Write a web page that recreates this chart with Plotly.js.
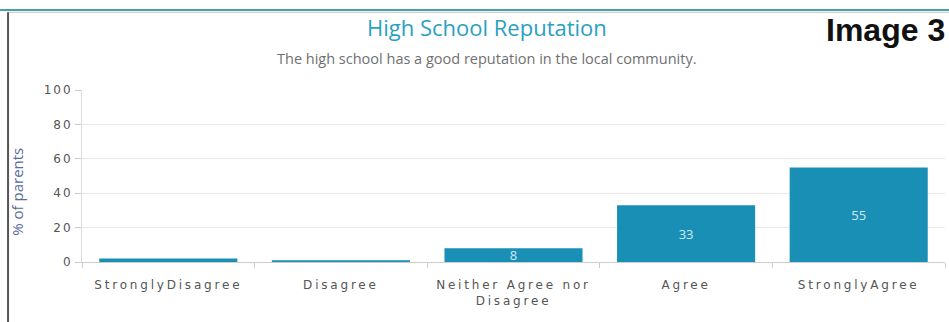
<!DOCTYPE html>
<html>
<head>
<meta charset="utf-8">
<script src="https://cdn.plot.ly/plotly-3.0.1.min.js"></script>
<style>
html,body{margin:0;padding:0;background:#fff;}
#chart{width:949px;height:322px;}
#chart .xtick text{letter-spacing:2.8px;}
#chart .ytick text{letter-spacing:2px;}
</style>
</head>
<body>
<div id="chart"></div>
<script>
const categories = ["Strongly Disagree", "Disagree", "Neither Agree nor Disagree", "Agree", "Strongly Agree"];
const tickLabels = ["StronglyDisagree", "Disagree", "Neither Agree nor<br>Disagree", "Agree", "StronglyAgree"];
const values = [2, 1, 8, 33, 55];
const yTicks = [0, 20, 40, 60, 80, 100];

const barText = values.map(v => v >= 5 ? String(v) : "");

const trace = {
  type: "bar",
  x: categories,
  y: values,
  text: barText,
  textposition: "inside",
  insidetextanchor: "middle",
  textangle: 0,
  constraintext: "none",
  textfont: {family: "Open Sans, sans-serif", size: 13, color: "#cfe8f2"},
  marker: {color: "#1a8fb6"},
  hoverinfo: "none"
};

const layout = {
  width: 949, height: 322,
  margin: {l: 82, r: 4, t: 90, b: 60},
  paper_bgcolor: "#ffffff",
  plot_bgcolor: "#ffffff",
  showlegend: false,
  bargap: 0.2,
  xaxis: {
    tickmode: "array",
    tickvals: categories,
    ticktext: tickLabels,
    tickson: "boundaries",
    ticks: "outside", ticklen: 5, tickcolor: "#cccccc",
    ticklabelstandoff: 12,
    showline: true, linecolor: "#cccccc", linewidth: 1,
    tickfont: {family: "DejaVu Sans, sans-serif", size: 12, color: "#555555"},
    showgrid: false
  },
  yaxis: {
    range: [0, 100],
    tickmode: "array",
    tickvals: yTicks,
    ticks: "outside", ticklen: 6, tickcolor: "#cccccc",
    showline: true, linecolor: "#dddddd", linewidth: 1,
    gridcolor: "#e8e8e8",
    zeroline: false,
    tickfont: {family: "DejaVu Sans, sans-serif", size: 12, color: "#555555"}
  },
  annotations: [
    {text: "High School Reputation",
     xref: "paper", yref: "paper", x: 0.469, y: 1.366, xanchor: "center", yanchor: "middle",
     showarrow: false, font: {family: "Open Sans, sans-serif", size: 22, color: "#2aa0c2"}},
    {text: "The high school has a good reputation in the local community.",
     xref: "paper", yref: "paper", x: 0.469, y: 1.186, xanchor: "center", yanchor: "middle",
     showarrow: false, font: {family: "Open Sans, sans-serif", size: 14.5, color: "#707070"}},
    {text: "<b>Image 3</b>",
     xref: "paper", yref: "paper", x: 1.002, y: 1.35, xanchor: "right", yanchor: "middle",
     showarrow: false, font: {family: "Liberation Sans, Arial, sans-serif", size: 32, color: "#111111"}},
    {text: "% of parents",
     xref: "paper", yref: "paper", x: -0.075, y: 0.41, xanchor: "center", yanchor: "middle",
     textangle: -90,
     showarrow: false, font: {family: "Open Sans, sans-serif", size: 15, color: "#5a6a9c"}}
  ],
  shapes: [
    {type: "line", xref: "paper", yref: "paper", x0: -0.1, x1: 1.01, y0: 1.465, y1: 1.465,
     line: {color: "#4a9fae", width: 2}},
    {type: "line", xref: "paper", yref: "paper", x0: -0.086, x1: 1.01, y0: 1.452, y1: 1.452,
     line: {color: "#c0c0c0", width: 1}},
    {type: "line", xref: "paper", yref: "paper", x0: -0.0857, x1: -0.0857, y0: 1.452, y1: -0.4,
     line: {color: "#555555", width: 2}}
  ]
};

Plotly.newPlot("chart", [trace], layout, {displayModeBar: false, staticPlot: true});
</script>
</body>
</html>
